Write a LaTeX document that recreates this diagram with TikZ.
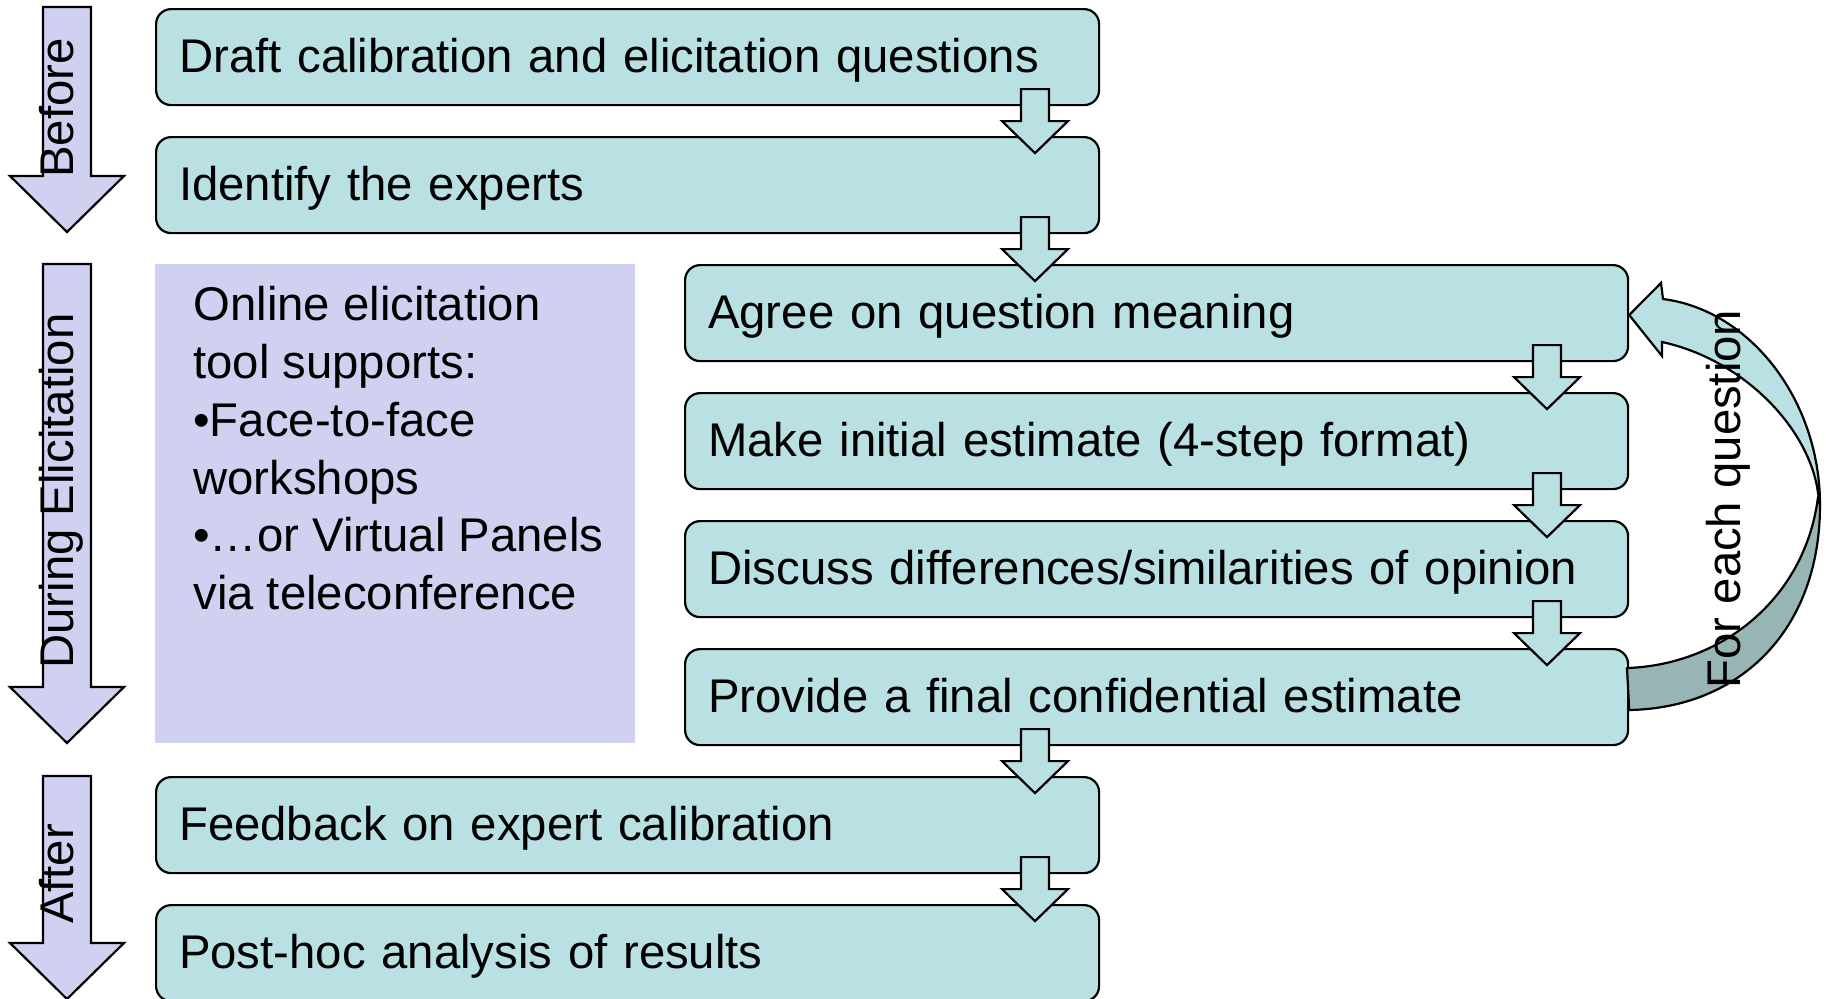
\documentclass[tikz,border=0pt]{standalone}
\usepackage{fontspec}
\setmainfont{Liberation Sans}
\usetikzlibrary{calc}
\definecolor{boxfill}{RGB}{185,224,227}
\definecolor{lav}{RGB}{208,208,240}
\definecolor{darkband}{RGB}{152,181,181}
\newcommand\flowarrow[3]{%
  \coordinate (fa) at ($(#2.south)!0.5!(#3.north)$);
  \draw[flowarr] (#1,0 |- fa) ++(-14,-32) -- ++(28,0) -- ++(0,32) -- ++(19,0)
    -- ++(-33,32) -- ++(-33,-32) -- ++(19,0) -- cycle;}
\newcommand\phasearrow[4]{%
  \draw[phase] (43,#2) -- (91,#2) -- (91,#3) -- (124,#3) -- (67,#4) -- (10,#3) -- (43,#3) -- cycle;
  \coordinate (#1) at (67,#4);}
\begin{document}
\begin{tikzpicture}[x=0.5pt,y=-0.5pt,
  bigfont/.style={font=\fontsize{23.65}{28.9}\selectfont},
  stepbox/.style={draw=black, line width=1.1pt, fill=boxfill, rounded corners=7.5pt,
    minimum height=48pt, text width=448.5pt, inner xsep=11.5pt, inner ysep=0pt,
    align=left, anchor=north west, text height=17pt, text depth=2pt, bigfont},
  flowarr/.style={draw=black, line width=1.1pt, fill=boxfill, line join=miter},
  phase/.style={draw=black, line width=1.1pt, fill=lav, line join=miter},
  phaselabel/.style={rotate=90, anchor=base, inner sep=0pt, bigfont}]
\useasboundingbox (0,0) rectangle (1826,998);

% phase arrows
\phasearrow{pb}{7}{176}{232}
\phasearrow{pd}{264}{687}{743}
\phasearrow{pa}{776}{943}{999}
\node[phaselabel] (lbefore) at (73,108) {Before};
\node[phaselabel] (lduring) at (73,491) {During Elicitation};
\node[phaselabel] (lafter) at (73,874) {After};

% side panel
\node[fill=lav, minimum width=240pt, minimum height=239.5pt, anchor=north west, inner sep=0pt] (panel) at (155,264) {};
\node[anchor=north west, align=left, inner sep=0pt, bigfont] (paneltext) at (193,286)
  {Online elicitation\\tool supports:\\•Face-to-face\\workshops\\•…or Virtual Panels\\via teleconference};

% step boxes
\node[stepbox] (b1) at (155,8) {Draft calibration and elicitation questions};
\node[stepbox] (b2) at (155,136) {Identify the experts};
\node[stepbox] (b3) at (684,264) {Agree on question meaning};
\node[stepbox] (b4) at (684,392) {Make initial estimate (4-step format)};
\node[stepbox] (b5) at (684,520) {Discuss differences/similarities of opinion};
\node[stepbox] (b6) at (684,648) {Provide a final confidential estimate};
\node[stepbox] (b7) at (155,776) {Feedback on expert calibration};
\node[stepbox] (b8) at (155,904) {Post-hoc analysis of results};

% block arrows between steps
\flowarrow{1035}{b1}{b2}
\flowarrow{1035}{b2}{b3}
\flowarrow{1547}{b3}{b4}
\flowarrow{1547}{b4}{b5}
\flowarrow{1547}{b5}{b6}
\flowarrow{1035}{b6}{b7}
\flowarrow{1035}{b7}{b8}

% curved loop arrow: from b6 back to b3
\coordinate (loopstart) at (b6.east |- 0,710);
\coordinate (loopend) at (b3.east |- 0,315);
\draw[line width=1.1pt, fill=darkband, line join=round]
  (loopstart) .. controls (1740,708) and (1820,630) .. (1820,505)
  -- (1818,497) .. controls (1805,600) and (1720,665) .. (1627,668) -- cycle;
\draw[line width=1.1pt, fill=boxfill, line join=miter]
  (1820,505) .. controls (1820,400) and (1750,310) .. (1663,299)
  -- (1661,283) -- (loopend) -- (1662,356) -- (1662,342)
  .. controls (1745,360) and (1810,430) .. (1818,493) -- cycle;
\node[phaselabel] (lloop) at (1740,499) {For each question};
\end{tikzpicture}
\end{document}
